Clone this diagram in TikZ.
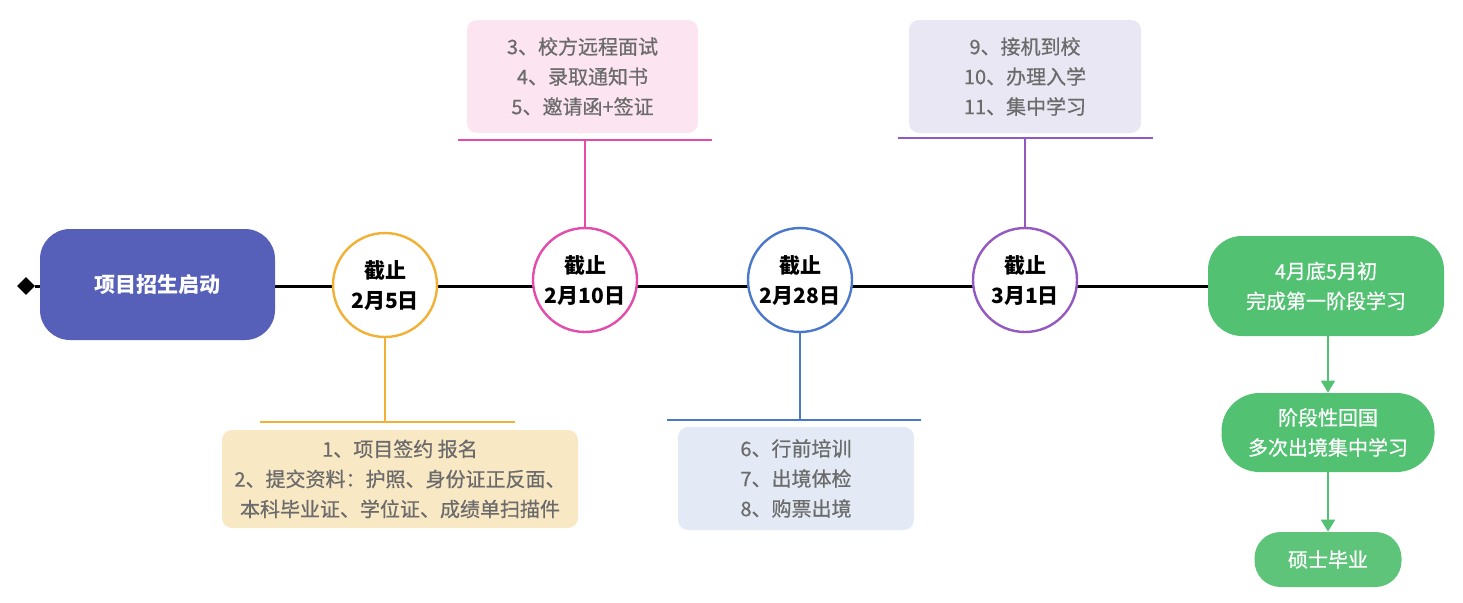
\documentclass[tikz,border=0pt]{standalone}
\usepackage{fontspec}
\setmainfont{Noto Sans CJK SC}
\newfontfamily\medfont{Noto Sans CJK SC}[FakeBold=0.6]
\usetikzlibrary{shapes.geometric,arrows.meta}
\definecolor{startpurple}{HTML}{5660B9}
\definecolor{corange}{HTML}{F2B134}
\definecolor{forange}{HTML}{F9E8C4}
\definecolor{cpink}{HTML}{E44BAA}
\definecolor{fpink}{HTML}{FCE5F1}
\definecolor{cblue}{HTML}{4A78CC}
\definecolor{fblue}{HTML}{E3EAF6}
\definecolor{cviolet}{HTML}{9558C2}
\definecolor{fviolet}{HTML}{E9E7F3}
\definecolor{cgreen}{HTML}{52C172}
\definecolor{cgreenlight}{HTML}{5DC47A}
\definecolor{tgray}{HTML}{6B6B6B}
\tikzset{
  deadline/.style={circle,draw=#1,line width=1.2pt,fill=white,minimum size=52pt,inner sep=0pt,align=center,font=\fontsize{10.5}{15}\selectfont\bfseries},
  startbox/.style={fill=startpurple,rounded corners=15pt,minimum width=117.5pt,minimum height=55.5pt,inner sep=0pt,text=white,font=\fontsize{10.5}{15}\selectfont\bfseries},
  infobox/.style={rounded corners=5pt,fill=#1,inner sep=0pt,align=center,text=tgray,font=\medfont\fontsize{10}{15}\selectfont},
  greenbox/.style={fill=cgreen,text=white,inner sep=0pt,align=center,font=\medfont\fontsize{10}{15}\selectfont},
  conn/.style={draw=#1,line width=1pt},
  mainline/.style={draw=black,line width=1.5pt},
  garrow/.style={draw=cgreen,line width=1pt,-{Triangle[width=7pt,length=6pt]}}
}
\begin{document}
\begin{tikzpicture}[x=0.5pt,y=-0.5pt]
\useasboundingbox (0,0) rectangle (1463,602);
% nodes
\node[diamond,fill=black,minimum width=9pt,minimum height=9pt,inner sep=0pt] (dia) at (26,286) {};
\node[greenbox,rounded corners=17pt,minimum width=118pt,minimum height=50pt] (g1) at (1326,286) {4月底5月初\\完成第一阶段学习};
\node[greenbox,rounded corners=19pt,minimum width=106.5pt,minimum height=39.5pt] (g2) at (1328,432.5) {阶段性回国\\多次出境集中学习};
\node[greenbox,fill=cgreenlight,rounded corners=13pt,minimum width=73.5pt,minimum height=27.5pt] (g3) at (1328,559.5) {硕士毕业};
% main line
\draw[mainline] (dia.east) -- (g1.west);
\node[startbox] (start) at (157.5,284.5) {项目招生启动};
\node[deadline=corange] (c1) at (385,285) {截止\\2月5日};
\node[deadline=cpink] (c2) at (585,280) {截止\\2月10日};
\node[deadline=cblue] (c3) at (800,280) {截止\\2月28日};
\node[deadline=cviolet] (c4) at (1025,280) {截止\\3月1日};
% info boxes
\node[infobox=forange,minimum width=178pt,minimum height=49pt] (b1) at (400,479) {1、项目签约 报名\\2、提交资料：护照、身份证正反面、\\本科毕业证、学位证、成绩单扫描件};
\node[infobox=fpink,minimum width=115.5pt,minimum height=56.5pt] (b2) at (582.5,76.5) {3、校方远程面试\\4、录取通知书\\5、邀请函+签证};
\node[infobox=fblue,minimum width=118pt,minimum height=51.5pt] (b3) at (796,478.5) {6、行前培训\\7、出境体检\\8、购票出境};
\node[infobox=fviolet,minimum width=116pt,minimum height=56.5pt] (b4) at (1025,76.5) {9、接机到校\\10、办理入学\\11、集中学习};
% connectors
\coordinate (j1) at (385,422);
\coordinate (l1) at (260,422);
\coordinate (r1) at (515,422);
\draw[conn=corange] (c1.south) -- (j1);
\draw[conn=corange] (l1) -- (r1);
\coordinate (j2) at (585,140);
\coordinate (l2) at (458,140);
\coordinate (r2) at (712,140);
\draw[conn=cpink] (c2.north) -- (j2);
\draw[conn=cpink] (l2) -- (r2);
\coordinate (j3) at (800,420);
\coordinate (l3) at (667,420);
\coordinate (r3) at (921,420);
\draw[conn=cblue] (c3.south) -- (j3);
\draw[conn=cblue] (l3) -- (r3);
\coordinate (j4) at (1025,138);
\coordinate (l4) at (898,138);
\coordinate (r4) at (1153,138);
\draw[conn=cviolet] (c4.north) -- (j4);
\draw[conn=cviolet] (l4) -- (r4);
% green arrows
\draw[garrow] (g1.south -| g2.north) -- (g2.north);
\draw[garrow] (g2.south) -- (g3.north);
\end{tikzpicture}
\end{document}
